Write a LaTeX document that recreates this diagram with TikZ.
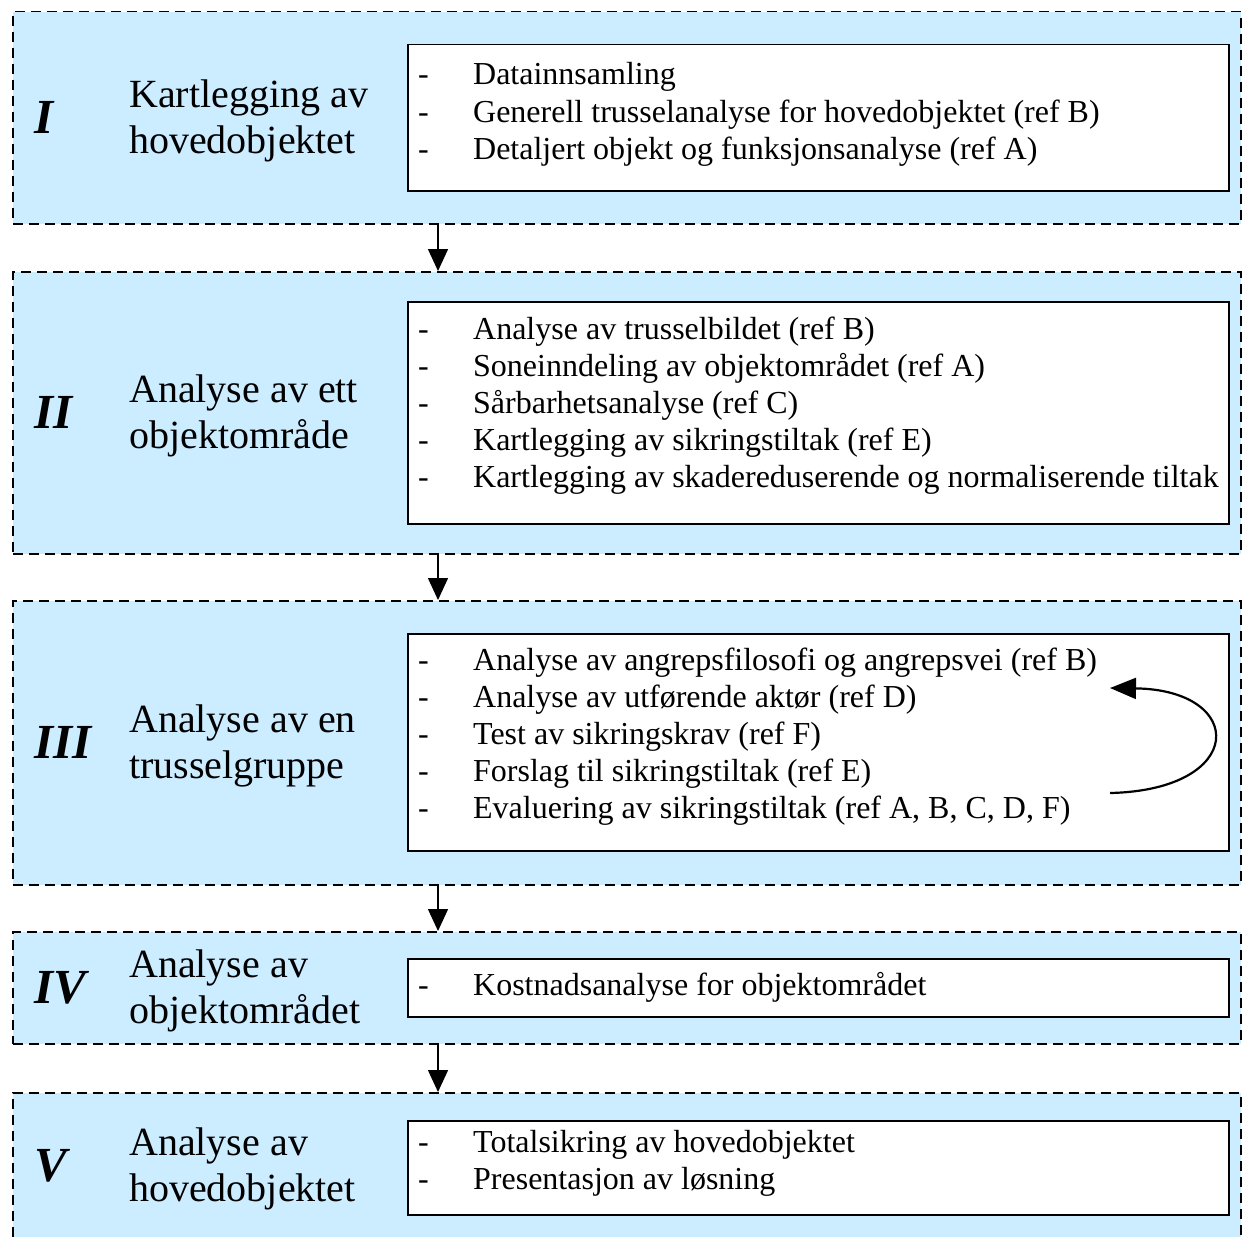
\documentclass[tikz,border=0pt]{standalone}
\usepackage{fontspec}
\setmainfont{Liberation Serif}
\usepackage{tikz}
\usetikzlibrary{arrows.meta, positioning}
\definecolor{phaseblue}{RGB}{204,236,255}
\newcommand{\tasklist}[1]{\begin{tabular}[t]{@{}p{55pt}@{}l@{}}#1\end{tabular}}

\begin{document}
\begin{tikzpicture}
	[x=1pt, y=-1pt,
	 phase/.style={draw, dash pattern=on 10pt off 6pt, line width=1.5pt, fill=phaseblue,
	   anchor=north west, inner sep=0pt, minimum width=1228pt},
	 listbox/.style={draw, line width=1.5pt, fill=white, anchor=north west, inner sep=0pt,
	   minimum width=821pt},
	 numeral/.style={font=\fontsize{49}{54}\selectfont\bfseries\itshape, inner sep=0pt},
	 title/.style={font=\fontsize{40}{46}\selectfont, align=left, inner sep=0pt, yshift=-3pt},
	 items/.style={font=\fontsize{32}{37}\selectfont, anchor=base west, inner sep=0pt},
	 flow/.style={-{Triangle[width=20pt,length=22pt]}, line width=1.5pt}]
   \path[use as bounding box, clip] (0,0) rectangle (1246,1236);

   % phases
   \node[phase, minimum height=212pt] (p_1) at (12,11) {};
   \node[phase, minimum height=282pt] (p_2) at (12,271) {};
   \node[phase, minimum height=284pt] (p_3) at (12,600) {};
   \node[phase, minimum height=112pt] (p_4) at (12,931) {};
   \node[phase, minimum height=146pt] (p_5) at (12,1092) {};

   \node[numeral, right=22pt of p_1.west] (n_1) {I};
   \node[numeral, right=22pt of p_2.west] (n_2) {II};
   \node[numeral, right=22pt of p_3.west] (n_3) {III};
   \node[numeral, right=22pt of p_4.west] (n_4) {IV};
   \node[numeral, right=22pt of p_5.west] (n_5) {V};

   \node[title, right=117pt of p_1.west] (t_1) {Kartlegging av\\hovedobjektet};
   \node[title, right=117pt of p_2.west] (t_2) {Analyse av ett\\objektområde};
   \node[title, right=117pt of p_3.west] (t_3) {Analyse av en\\trusselgruppe};
   \node[title, right=117pt of p_4.west] (t_4) {Analyse av\\objektområdet};
   \node[title, right=117pt of p_5.west] (t_5) {Analyse av\\hovedobjektet};

   % task boxes
   \node[listbox, minimum height=146pt] (b_1) at (407,44) {};
   \node[listbox, minimum height=222pt] (b_2) at (407,301) {};
   \node[listbox, minimum height=217pt] (b_3) at (407,633) {};
   \node[listbox, minimum height=58pt] (b_4) at (407,958) {};
   \node[listbox, minimum height=94pt] (b_5) at (407,1120) {};

   \node[items] (l_1) at (418,85) {\tasklist{%
     - & Datainnsamling\\
     - & Generell trusselanalyse for hovedobjektet (ref B)\\
     - & Detaljert objekt og funksjonsanalyse (ref A)}};
   \node[items] (l_2) at (418,339) {\tasklist{%
     - & Analyse av trusselbildet (ref B)\\
     - & Soneinndeling av objektområdet (ref A)\\
     - & Sårbarhetsanalyse (ref C)\\
     - & Kartlegging av sikringstiltak (ref E)\\
     - & Kartlegging av skadereduserende og normaliserende tiltak}};
   \node[items] (l_3) at (418,670) {\tasklist{%
     - & Analyse av angrepsfilosofi og angrepsvei (ref B)\\
     - & Analyse av utførende aktør (ref D)\\
     - & Test av sikringskrav (ref F)\\
     - & Forslag til sikringstiltak (ref E)\\
     - & Evaluering av sikringstiltak (ref A, B, C, D, F)}};
   \node[items] (l_4) at (418,995) {\tasklist{%
     - & Kostnadsanalyse for objektområdet}};
   \node[items] (l_5) at (418,1152) {\tasklist{%
     - & Totalsikring av hovedobjektet\\
     - & Presentasjon av løsning}};

   % flow between phases
   \foreach \a/\b in {1/2,2/3,3/4,4/5}
     \draw[flow] ([xshift=426pt]p_\a.south west) -- ([xshift=426pt]p_\b.north west);

   % iteration in phase III
   \coordinate (r_s) at (1110,793);
   \coordinate (r_e) at (1110,688);
   \draw[flow, line width=2.2pt, -{Triangle[width=21pt,length=26pt]}]
     (r_s) .. controls (1247,790) and (1247,690) .. (r_e);
\end{tikzpicture}
\end{document}
